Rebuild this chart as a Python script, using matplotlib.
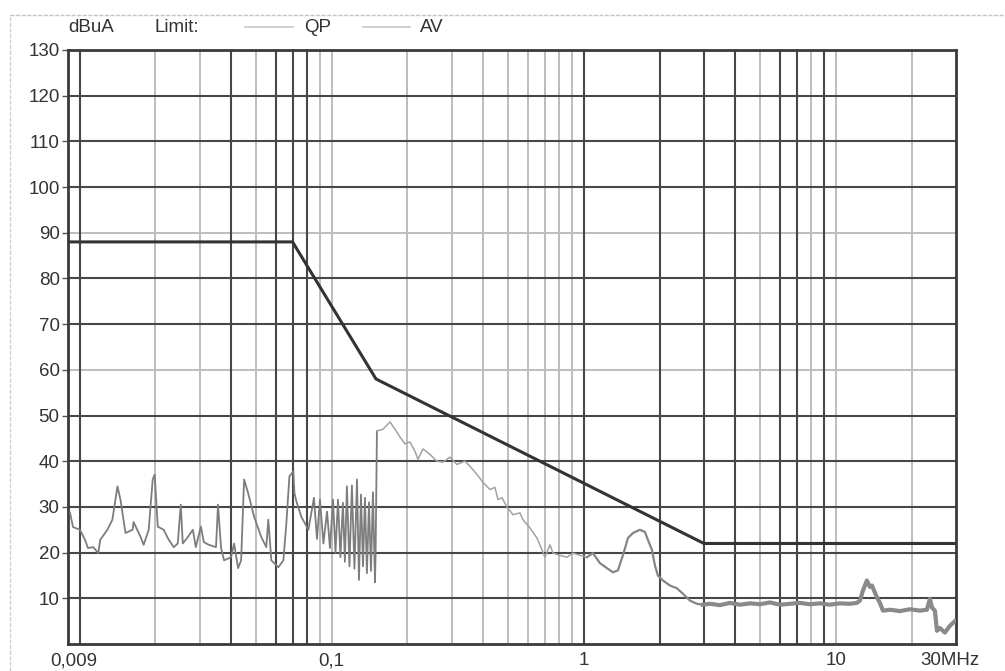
import numpy as np
import matplotlib
matplotlib.use("Agg")
import matplotlib.pyplot as plt
import matplotlib.transforms as mtransforms
from matplotlib.lines import Line2D

plt.rcParams['font.family'] = ['Liberation Sans', 'DejaVu Sans']

# ---------------- data ----------------
freq_mhz = [
    0.00917, 0.00942, 0.01004, 0.01051, 0.0108, 0.01133, 0.01187, 0.01208, 0.01289, 0.0135,
    0.01414, 0.01453, 0.01522, 0.01624, 0.01638, 0.01748, 0.01796, 0.01881, 0.01951, 0.01987,
    0.02043, 0.02157, 0.02259, 0.02365, 0.02453, 0.02521, 0.02568, 0.02688, 0.02815, 0.02893,
    0.03029, 0.03113, 0.0326, 0.03479, 0.03543, 0.03643, 0.03744, 0.03992, 0.04103, 0.04256,
    0.04375, 0.04497, 0.04666, 0.04931, 0.05262, 0.05507, 0.05609, 0.05767, 0.06149, 0.06437,
    0.06616, 0.06802, 0.07055, 0.0712, 0.07251, 0.0759, 0.0809,
    0.0851, 0.0875, 0.0899, 0.0928, 0.0959, 0.0985, 0.1013, 0.1036, 0.106, 0.1084,
    0.1109, 0.1129, 0.115, 0.1177, 0.1204, 0.1232, 0.1261, 0.1284, 0.1308, 0.1332,
    0.1356, 0.1381, 0.1407, 0.1433, 0.1459, 0.1486, 0.1495,
    0.1513, 0.1598, 0.1705, 0.1784, 0.1868, 0.1955, 0.2046, 0.2141, 0.2201, 0.2304,
    0.2456, 0.2618, 0.2766, 0.2948, 0.3142, 0.338, 0.3538, 0.3773, 0.3985, 0.4249,
    0.4447, 0.457, 0.474, 0.4962, 0.5242, 0.5588, 0.5743, 0.6122, 0.6527, 0.6831,
    0.7021, 0.7349, 0.7553, 0.8051, 0.8583, 0.9067, 0.9666, 1.0305, 1.0881, 1.16,
    1.237, 1.306, 1.367, 1.431, 1.499, 1.569, 1.672, 1.751, 1.798, 1.866,
    1.917, 1.97, 2.063, 2.199, 2.344, 2.476, 2.64, 2.813, 2.973,
    3.168, 3.472, 3.803, 4.168, 4.567, 5.002, 5.481, 6.007, 6.58, 7.209,
    7.899, 8.653, 9.481, 10.39, 11.38, 12.13, 12.47, 12.82, 13.29, 13.66,
    13.92, 14.57, 14.97, 15.39, 16.4, 17.97, 19.69, 21.57, 23.0, 23.64,
    24.07, 24.74, 25.2, 25.9, 27.1, 28.4, 29.7,
]
level_dbua = [
    28.7, 25.6, 25.0, 22.8, 21.0, 21.2, 19.9, 22.8, 25.0, 27.2,
    34.5, 31.6, 24.3, 25.0, 26.7, 23.4, 21.7, 25.0, 36.0, 37.1,
    25.7, 25.0, 22.8, 21.2, 22.0, 30.5, 22.0, 23.4, 25.0, 21.2,
    25.7, 22.3, 21.7, 21.2, 30.5, 21.0, 18.3, 19.0, 22.0, 16.6,
    18.3, 36.0, 33.0, 27.8, 23.4, 21.2, 27.2, 18.3, 16.8, 18.3,
    26.5, 36.7, 37.8, 33.0, 31.2, 27.8, 25.0,
    32.0, 23.0, 31.6, 22.0, 29.0, 21.0, 31.6, 20.0, 31.6, 19.0,
    30.9, 18.0, 34.5, 17.0, 34.7, 16.5, 36.0, 14.0, 32.7, 17.0,
    32.0, 15.5, 31.0, 16.0, 33.2, 13.5, 20.0,
    46.6, 47.0, 48.6, 47.0, 45.3, 43.8, 44.2, 42.2, 40.4, 42.7,
    41.5, 40.0, 39.8, 40.9, 39.3, 40.0, 38.9, 37.1, 35.4, 33.8,
    34.3, 31.6, 32.0, 30.0, 28.3, 28.7, 27.2, 25.4, 23.2, 20.6,
    19.0, 21.7, 19.9, 19.4, 19.0, 19.9, 19.4, 19.0, 19.9, 17.7,
    16.6, 15.7, 16.1, 19.4, 23.2, 24.3, 25.0, 24.5, 22.8, 20.6,
    17.2, 15.0, 13.9, 12.8, 12.2, 11.0, 9.5, 8.8, 8.6,
    8.8, 8.5, 9.0, 8.6, 8.9, 8.7, 9.1, 8.6, 8.8, 9.0,
    8.7, 8.9, 8.6, 8.9, 8.8, 9.0, 9.5, 11.7, 13.9, 12.5,
    12.8, 10.2, 9.0, 7.3, 7.5, 7.2, 7.6, 7.3, 7.5, 9.9,
    8.0, 7.3, 2.9, 3.5, 2.5, 4.0, 5.0,
]

limit_freq = [0.009, 0.07, 0.15, 3.0, 30.0]
limit_level = [88, 88, 58, 22, 22]

y_ticks = [10, 20, 30, 40, 50, 60, 70, 80, 90, 100, 110, 120, 130]
x_ticks = [0.009, 0.1, 1, 10, 30]
x_tick_labels = ['0,009', '0,1', '1', '10', '30MHz']

vgrid_dark = [0.01, 0.04, 0.06, 0.07, 0.08, 1, 2, 3, 4, 6, 7, 9]
vgrid_light = [0.02, 0.03, 0.05, 0.09, 0.1, 0.2, 0.3, 0.4, 0.5, 0.6, 0.7, 0.8, 0.9, 5, 8, 10, 20]
hgrid_dark = [10, 20, 30, 40, 50, 70, 80, 100, 110, 120]
hgrid_light = [60, 90]

# ---------------- figure ----------------
W, H = 1005, 671
fig = plt.figure(figsize=(W / 100, H / 100), dpi=100)
fig.patch.set_facecolor('white')

L, R, T, B = 68, 956, 50, 644
ax = fig.add_axes([L / W, 1 - B / H, (R - L) / W, (B - T) / H])
ax.set_xscale('log')
ax.set_xlim(0.009, 30)
ax.set_ylim(0, 130)

dark = '#474747'
light = '#bdbdbd'
for v in vgrid_light:
    ax.axvline(v, color=light, lw=1.4, zorder=1)
for v in vgrid_dark:
    ax.axvline(v, color=dark, lw=1.5, zorder=1.2)
for h in hgrid_light:
    ax.axhline(h, color=light, lw=1.4, zorder=1)
for h in hgrid_dark:
    ax.axhline(h, color=dark, lw=1.5, zorder=1.2)

f = np.array(freq_mhz)
lv = np.array(level_dbua)
m1 = f <= 0.1513
m2 = (f >= 0.1513) & (f <= 1.0305)
m3 = f >= 1.0305
m4 = f >= 2.973
ax.plot(f[m1], lv[m1], color='#7d7d7d', lw=1.3, zorder=3)
ax.plot(f[m2], lv[m2], color='#a2a2a2', lw=1.1, zorder=3)
ax.plot(f[m3], lv[m3], color='#858585', lw=1.6, zorder=3)
ax.plot(f[m4], lv[m4], color='#8a8a8a', lw=3.0, zorder=3)

ax.plot(limit_freq, limit_level, color='#333333', lw=2.2, zorder=4)

ax.set_yticks(y_ticks)
ax.set_yticklabels([str(t) for t in y_ticks])
ax.set_xticks(x_ticks)
ax.set_xticklabels(x_tick_labels)
ax.xaxis.set_minor_locator(matplotlib.ticker.NullLocator())
ax.tick_params(axis='y', direction='out', length=4, width=1, color='#555555',
               labelsize=13.5, labelcolor='#333333', pad=2)
ax.tick_params(axis='x', length=0, labelsize=13.5, labelcolor='#333333', pad=6)
xl = ax.get_xticklabels()
xl[0].set_transform(xl[0].get_transform() + mtransforms.ScaledTranslation(6 / 100, 0, fig.dpi_scale_trans))
xl[-1].set_transform(xl[-1].get_transform() + mtransforms.ScaledTranslation(-6 / 100, 0, fig.dpi_scale_trans))
for s in ax.spines.values():
    s.set_color('#3a3a3a')
    s.set_linewidth(2)

# header texts
fig.text(68 / W, 1 - 27 / H, 'dBuA', fontsize=13.5, color='#333333', va='center', ha='left')
fig.text(155 / W, 1 - 27 / H, 'Limit:', fontsize=13.5, color='#333333', va='center', ha='left')
fig.add_artist(Line2D([245 / W, 293 / W], [1 - 27 / H, 1 - 27 / H], color='#c8c8c8', lw=1.2))
fig.text(304 / W, 1 - 27 / H, 'QP', fontsize=13.5, color='#333333', va='center', ha='left')
fig.add_artist(Line2D([363 / W, 410 / W], [1 - 27 / H, 1 - 27 / H], color='#c8c8c8', lw=1.2))
fig.text(420 / W, 1 - 27 / H, 'AV', fontsize=13.5, color='#333333', va='center', ha='left')

# scan border lines
fig.add_artist(Line2D([10 / W, 1.0], [1 - 15 / H, 1 - 15 / H], color='#c4c4c4', lw=1.0, ls=(0, (3, 1))))
fig.add_artist(Line2D([10 / W, 10 / W], [0, 1 - 15 / H], color='#d0d0d0', lw=1.0, ls=(0, (3, 1))))

fig.savefig('out.png', dpi=100, facecolor='white')
